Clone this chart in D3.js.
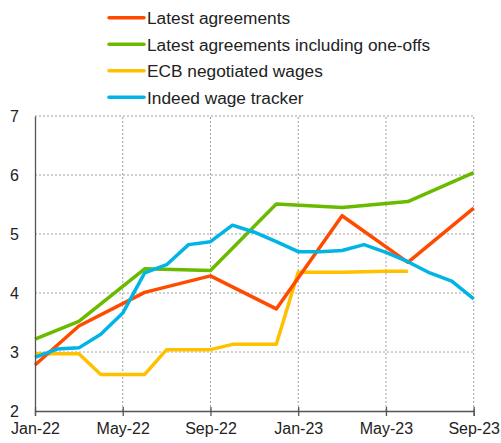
<!DOCTYPE html>
<html>
<head>
<meta charset="utf-8">
<script src="https://cdn.jsdelivr.net/npm/d3@7"></script>
<style>
  html, body { margin: 0; padding: 0; background: #fff; }
  svg { display: block; font-family: "Liberation Sans", Arial, sans-serif; }
</style>
</head>
<body>
<svg id="chart" width="501" height="443"></svg>
<script>
// ---- data ----
const months = d3.range(0, 21); // Jan-22 .. Sep-23 as month index
const xTickMonths = [0, 4, 8, 12, 16, 20];
const xTickLabels = ["Jan-22", "May-22", "Sep-22", "Jan-23", "May-23", "Sep-23"];
const yTicks = [2, 3, 4, 5, 6, 7];

const seriesNames = ["Latest agreements", "Latest agreements including one-offs", "ECB negotiated wages", "Indeed wage tracker"];
const seriesColors = ["#ff4b00", "#6abb00", "#ffc000", "#00b4e6"];

const latestMonths = [0, 2, 5, 8, 11, 14, 17, 20];
const latestValues = [2.78, 3.44, 4.01, 4.29, 3.73, 5.31, 4.52, 5.44];

const oneOffMonths = [0, 2, 5, 8, 11, 14, 17, 20];
const oneOffValues = [3.22, 3.52, 4.41, 4.38, 5.51, 5.45, 5.55, 6.04];

const ecbMonths = [0, 1, 2, 3, 4, 5, 6, 7, 8, 9, 10, 11, 12, 13, 14, 15, 16, 17];
const ecbValues = [2.97, 2.97, 2.97, 2.62, 2.62, 2.62, 3.04, 3.04, 3.04, 3.13, 3.13, 3.13, 4.35, 4.35, 4.35, 4.36, 4.37, 4.37];

const indeedMonths = months;
const indeedValues = [2.91, 3.05, 3.07, 3.30, 3.66, 4.34, 4.48, 4.82, 4.87, 5.15, 5.03, 4.87, 4.70, 4.70, 4.72, 4.82, 4.69, 4.53, 4.34, 4.20, 3.90];

// ---- layout ----
const svg = d3.select("#chart");
const x = d3.scaleLinear().domain([0, 20]).range([35, 473.7]);
const y = d3.scaleLinear().domain([2, 7]).range([411, 116]);

const textColor = "#222";

// gridlines
const grid = svg.append("g");
grid.selectAll("line.h").data(yTicks.filter(v => v > 2)).enter().append("line")
  .attr("x1", x(0)).attr("x2", x(20))
  .attr("y1", d => y(d)).attr("y2", d => y(d))
  .attr("stroke", "#a0a0a0").attr("stroke-width", 1).attr("stroke-dasharray", "2,2");
grid.selectAll("line.v").data(xTickMonths.filter(m => m > 0)).enter().append("line")
  .attr("x1", d => x(d)).attr("x2", d => x(d))
  .attr("y1", y(2)).attr("y2", y(7))
  .attr("stroke", "#a0a0a0").attr("stroke-width", 1).attr("stroke-dasharray", "2,2");

// lines
const line = d3.line().x(d => x(d[0])).y(d => y(d[1]));
const series = [
  d3.zip(latestMonths, latestValues),
  d3.zip(oneOffMonths, oneOffValues),
  d3.zip(ecbMonths, ecbValues),
  d3.zip(indeedMonths, indeedValues)
];
const order = [2, 1, 0, 3];
order.forEach(i => {
  svg.append("path").datum(series[i])
    .attr("d", line)
    .attr("fill", "none")
    .attr("stroke", seriesColors[i])
    .attr("stroke-width", 3.5)
    .attr("stroke-linejoin", "round");
});

// axes
const yAxis = d3.axisLeft(y).tickValues(yTicks).tickFormat(d3.format("d")).tickSize(0).tickPadding(16);
const gy = svg.append("g").attr("transform", `translate(${x(0)},0)`).call(yAxis);
gy.select(".domain").attr("stroke", "#555").attr("stroke-width", 1.3);
gy.selectAll("text").attr("font-size", 16).attr("fill", textColor)
  .attr("font-family", "Liberation Sans, Arial, sans-serif");

const xAxis = d3.axisBottom(x).tickValues(xTickMonths)
  .tickFormat((d, i) => xTickLabels[i]).tickSize(5).tickPadding(7);
const gx = svg.append("g").attr("transform", `translate(0,${y(2)})`).call(xAxis);
gx.select(".domain").attr("stroke", "#555").attr("stroke-width", 1.3);
gx.selectAll(".tick line").attr("stroke", "#555").attr("stroke-width", 1.3).attr("y1", -4);
gx.selectAll("text").attr("font-size", 16).attr("fill", textColor)
  .attr("font-family", "Liberation Sans, Arial, sans-serif");

// legend
const legendY = [17.7, 44.3, 70.7, 97.3];
const legend = svg.append("g");
seriesNames.forEach((name, i) => {
  legend.append("line")
    .attr("x1", 109).attr("x2", 144)
    .attr("y1", legendY[i]).attr("y2", legendY[i])
    .attr("stroke", seriesColors[i]).attr("stroke-width", 3.5)
    .attr("stroke-linecap", "round");
  legend.append("text")
    .attr("x", 147).attr("y", legendY[i])
    .attr("dy", "0.36em")
    .attr("font-size", 17.3).attr("fill", textColor)
    .text(name);
});
</script>
</body>
</html>
